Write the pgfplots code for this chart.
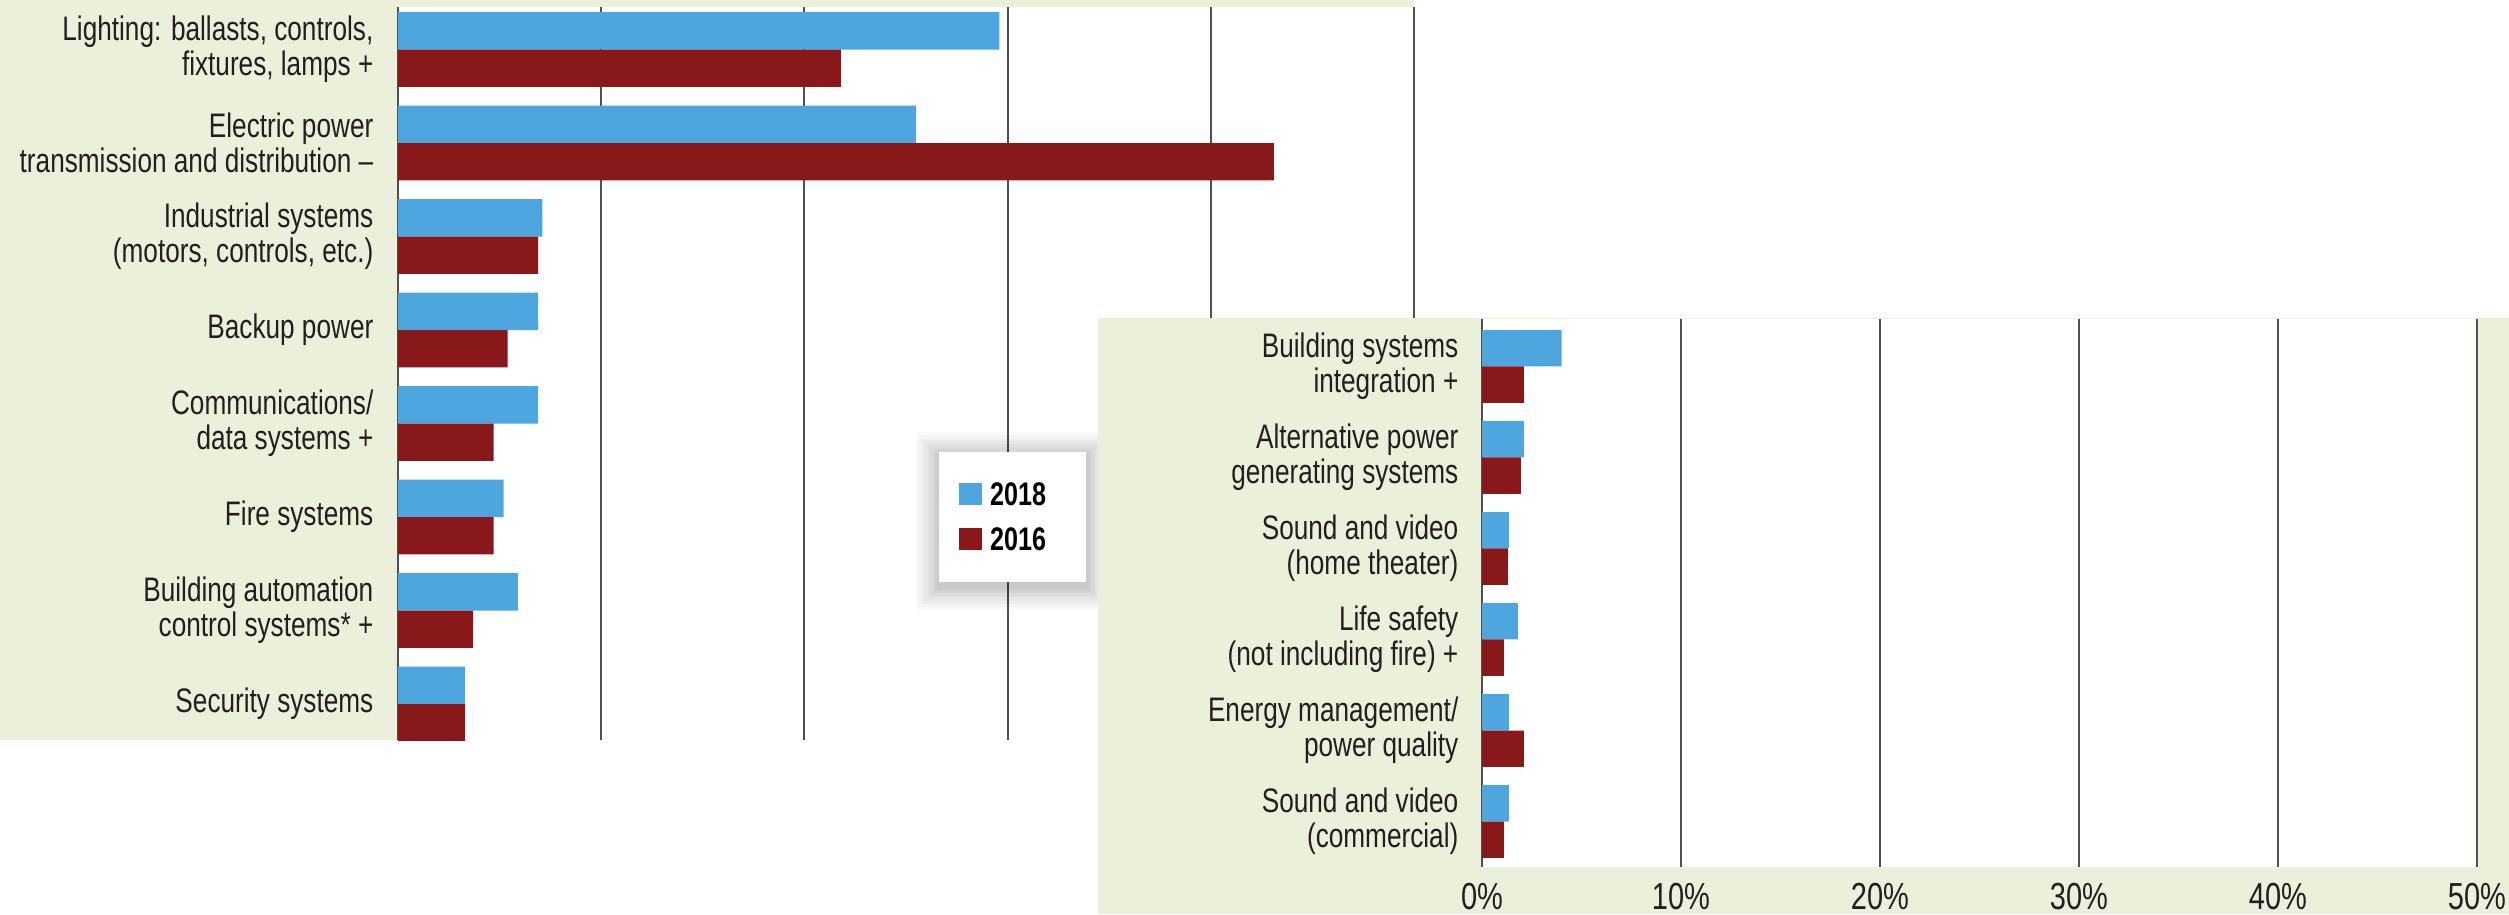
\documentclass[border=0pt]{standalone}
\usepackage{fontspec}
\setmainfont{Liberation Sans}[FakeStretch=0.77]
\usepackage{pgfplots}
\pgfplotsset{compat=1.18}
\usepackage{pgfplotstable}
\definecolor{bgreen}{RGB}{235,240,218}
\definecolor{cblue}{RGB}{77,166,221}
\definecolor{cred}{RGB}{137,24,27}
\definecolor{gridc}{RGB}{80,80,80}
\definecolor{txt}{RGB}{35,31,32}

\pgfplotstableread{
i a2018 a2016
0 29.6 21.8
1 25.5 43.1
2 7.1 6.9
3 6.9 5.4
4 6.9 4.7
5 5.2 4.7
6 5.9 3.7
7 3.3 3.3
}\lefttab

\pgfplotstableread{
i a2018 a2016
0 4.0 2.1
1 2.1 1.95
2 1.35 1.3
3 1.8 1.1
4 1.35 2.1
5 1.35 1.1
}\righttab

\newcommand\lab{\fontsize{10.2}{10.6}\selectfont}
% soft shadow layer: #1 = outward growth (pt)
\newcommand\shlayer[1]{\fill[black, opacity=0.022] ([xshift=-#1pt,yshift=-#1pt-1.5pt]axis description cs:0.5325,0.2155) rectangle ([xshift=#1pt,yshift=#1pt-1pt]axis description cs:0.6772,0.3929);}

\pgfplotsset{
  panel/.style={
    scale only axis, anchor=south west,
    xmin=0, xmax=50, y dir=reverse,
    xbar, bar width=0.4, bar shift=0pt,
    xtick={0,10,...,50},
    xmajorgrids, grid style={line width=0.6pt, color=gridc},
    major tick length=0pt,
    axis line style={draw=none},
    axis background/.style={fill=white},
    yticklabel style={align=right, font=\lab, text=txt, inner sep=0pt},
    xticklabel style={font=\fontsize{11.3}{12}\selectfont, text=txt, inner sep=0pt, anchor=north},
  },
}

\begin{document}
\begin{tikzpicture}
\path[use as bounding box] (0,0) rectangle (752.7pt,274.2pt);
% left panel background
\fill[bgreen] (0,52.2pt) rectangle (424.2pt,274.2pt);

\begin{axis}[panel,
  width=304.8pt, height=219.9pt, at={(119.4pt,52.2pt)},
  ymin=-0.4545, ymax=7.385,
  xticklabels={},
  ytick={0,...,7},
  yticklabel style={xshift=-7.2pt},
  yticklabels={{Lighting: ballasts, controls,\\fixtures, lamps +},
    {Electric power\\transmission and distribution –},
    {Industrial systems\\(motors, controls, etc.)},
    {Backup power},
    {Communications/\\data systems +},
    {Fire systems},
    {Building automation\\control systems* +},
    {Security systems}},
  legend style={at={(axis description cs:0.5519,0.352)}, anchor=north west,
    draw=none, fill=none, inner sep=0pt, row sep=6.6pt, column sep=2.4pt,
    font=\fontsize{9.8}{10}\selectfont\bfseries, text=black,
    nodes={inner sep=0pt, text depth=0pt}},
  legend cell align=left,
  legend image code/.code={\fill[#1] (0pt,-3.4pt) rectangle (6.8pt,3.4pt);},
]
\addplot[fill=cblue, draw=none] table[x=a2018, y expr=\thisrow{i}-0.2] {\lefttab};
\addplot[fill=cred, draw=none] table[x=a2016, y expr=\thisrow{i}+0.2] {\lefttab};
% legend box with soft shadow
\shlayer{7}\shlayer{6}\shlayer{5}\shlayer{4.2}\shlayer{3.4}\shlayer{2.6}\shlayer{1.8}\shlayer{1.1}\shlayer{0.5}
\fill[white] (axis description cs:0.5325,0.2155) rectangle (axis description cs:0.6772,0.3929);
\legend{2018,2016}
\end{axis}

% right panel background
\fill[bgreen] (329.4pt,0) rectangle (752.7pt,178.8pt);

\begin{axis}[panel,
  width=298.5pt, height=164.55pt, at={(444.6pt,14.1pt)},
  ymin=-0.527, ymax=5.5,
  xticklabels={0\%,10\%,20\%,30\%,40\%,50\%},
  xticklabel style={yshift=-4.8pt},
  ytick={0,...,5},
  yticklabel style={xshift=-6.9pt},
  yticklabels={{Building systems\\integration +},
    {Alternative power\\generating systems},
    {Sound and video\\(home theater)},
    {Life safety\\(not including fire) +},
    {Energy management/\\power quality},
    {Sound and video\\(commercial)}},
]
\addplot[fill=cblue, draw=none] table[x=a2018, y expr=\thisrow{i}-0.2] {\righttab};
\addplot[fill=cred, draw=none] table[x=a2016, y expr=\thisrow{i}+0.2] {\righttab};
\end{axis}
\end{tikzpicture}
\end{document}
